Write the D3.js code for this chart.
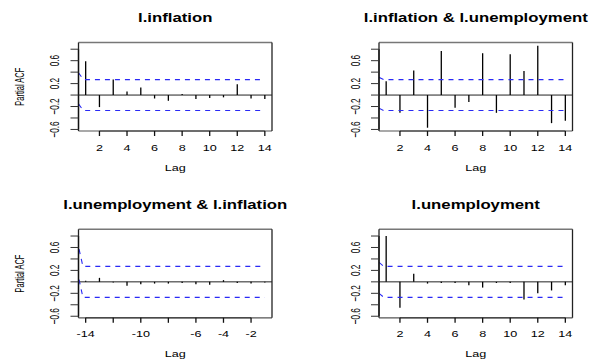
<!DOCTYPE html>
<html><head><meta charset="utf-8">
<script src="https://cdn.jsdelivr.net/npm/d3@7"></script>
<style>html,body{margin:0;padding:0;background:#fff;}svg{display:block;}</style>
</head><body>
<script>
// ---------- data ----------
const lagsPos = [1,2,3,4,5,6,7,8,9,10,11,12,13,14];
const lagsNeg = [-14,-13,-12,-11,-10,-9,-8,-7,-6,-5,-4,-3,-2,-1];
const pacfInflation = [0.59,-0.21,0.27,0.06,0.13,-0.06,-0.10,0.02,-0.07,-0.05,-0.04,0.19,-0.06,-0.07];
const pacfInflUnemp = [0.24,-0.31,0.43,-0.57,0.77,-0.22,-0.12,0.73,-0.31,0.71,0.42,0.86,-0.49,-0.45];
const pacfUnempInfl = [0.02,0.07,-0.01,-0.07,-0.04,-0.03,-0.03,-0.02,-0.04,-0.05,0.03,-0.02,-0.03,-0.01];
const pacfUnemp = [0.80,-0.45,0.14,-0.03,-0.02,-0.02,-0.06,-0.10,-0.02,-0.02,-0.31,-0.20,-0.15,-0.06];
const titles = ["l.inflation","l.inflation & l.unemployment","l.unemployment & l.inflation","l.unemployment"];
const clim = 0.27;
// confidence-band lines (lag, upper, lower)
const ciLagsPos = [0.48,0.83,14];
const ciLagsNeg = [-14.48,-14.2,-1];
const ciUpper = [[0.39,0.27,0.27],[0.31,0.27,0.27],[0.57,0.27,0.27],[0.34,0.27,0.27]];
const ciLower = [[-0.155,-0.27,-0.27],[-0.23,-0.27,-0.27],[0.04,-0.27,-0.27],[-0.20,-0.27,-0.27]];
const yTicks = [-0.6,-0.4,-0.2,0,0.2,0.4,0.6,0.8];
const yTickLabels = [-0.6,-0.2,0.2,0.6];
const xTicksPos = [2,4,6,8,10,12,14];
const xTicksNeg = [-14,-12,-10,-8,-6,-4,-2];
const xLabelsNeg = [-14,-10,-6,-4,-2];
const xLabel = "Lag", yLabel = "Partial ACF";

// ---------- layout ----------
const W = 598, H = 362;
const FONT = "'Liberation Sans', Arial, Helvetica, sans-serif";
const svg = d3.select("body").append("svg").attr("width", W).attr("height", H);

const allVals = [].concat(pacfInflation, pacfInflUnemp, pacfUnempInfl, pacfUnemp, [clim, -clim]);
const ext = d3.extent(allVals);
const pad = (ext[1]-ext[0])*0.04;
const yDomain = [ext[0]-pad, ext[1]+pad];

const panels = [
  {title: titles[0], lags: lagsPos, vals: pacfInflation, ci: 0, box:[78.5,272,42.5,131], ylab:true, neg:false},
  {title: titles[1], lags: lagsPos, vals: pacfInflUnemp, ci: 1, box:[379,572.5,42.5,131], ylab:false, neg:false},
  {title: titles[2], lags: lagsNeg, vals: pacfUnempInfl, ci: 2, box:[78.5,272,229.3,317.8], ylab:true, neg:true},
  {title: titles[3], lags: lagsPos, vals: pacfUnemp, ci: 3, box:[379,572.5,229.3,317.8], ylab:false, neg:false}
];

function txt(g, x, y, s, size, bold, rot, sx, sy) {
  g.append("text")
    .attr("transform", `translate(${x},${y}) scale(${sx},${sy})` + (rot ? " rotate(-90)" : ""))
    .attr("text-anchor","middle").attr("dominant-baseline","central")
    .attr("font-family", FONT).attr("font-size", size)
    .attr("font-weight", bold ? "bold" : "normal").attr("fill","#000").text(s);
}

panels.forEach((p, i) => {
  const [x0,x1,y0,y1] = p.box;
  const lagExt = d3.extent(p.lags);
  const lp = (lagExt[1]-lagExt[0])*0.04;
  const x = d3.scaleLinear().domain([lagExt[0]-lp, lagExt[1]+lp]).range([x0,x1]);
  const y = d3.scaleLinear().domain(yDomain).range([y1,y0]);
  const g = svg.append("g");
  const cid = "clip"+i;
  g.append("clipPath").attr("id",cid).append("rect").attr("x",x0).attr("y",y0).attr("width",x1-x0).attr("height",y1-y0);

  // zero line
  g.append("line").attr("x1",x0).attr("x2",x1).attr("y1",y(0)).attr("y2",y(0)).attr("stroke","#222").attr("stroke-width",1);
  // spikes
  g.selectAll("line.spike").data(p.lags.map((l,k)=>[l,p.vals[k]])).enter().append("line")
    .attr("class","spike").attr("x1",d=>x(d[0])).attr("x2",d=>x(d[0]))
    .attr("y1",y(0)).attr("y2",d=>y(d[1])).attr("stroke","#000").attr("stroke-width",1.3);
  // confidence lines
  const ciL = p.neg ? ciLagsNeg : ciLagsPos;
  const line = d3.line().x(d=>x(d[0])).y(d=>y(d[1]));
  [ciUpper[p.ci], ciLower[p.ci]].forEach(arr => {
    g.append("path").attr("clip-path",`url(#${cid})`)
      .attr("d", line(ciL.map((l,k)=>[l,arr[k]])))
      .attr("fill","none").attr("stroke","#2a2af5").attr("stroke-width",1.1).attr("stroke-dasharray","5,5");
  });
  // box
  g.append("line").attr("x1",x0).attr("x2",x1).attr("y1",y0).attr("y2",y0).attr("stroke","#777").attr("stroke-width",1.4);
  g.append("line").attr("x1",x0).attr("x2",x1).attr("y1",y1).attr("y2",y1).attr("stroke","#555").attr("stroke-width",1.2);
  g.append("line").attr("x1",x0).attr("x2",x0).attr("y1",y0).attr("y2",y1).attr("stroke","#222").attr("stroke-width",1.3);
  g.append("line").attr("x1",x1).attr("x2",x1).attr("y1",y0).attr("y2",y1).attr("stroke","#222").attr("stroke-width",1.3);

  // y axis
  const ya = g.append("g").attr("transform",`translate(${x0},0)`);
  ya.append("line").attr("x1",0).attr("x2",0).attr("y1",y(yTicks[0])).attr("y2",y(yTicks[yTicks.length-1])).attr("stroke","#111").attr("stroke-width",1.3);
  yTicks.forEach(t => ya.append("line").attr("x1",-8).attr("x2",0).attr("y1",y(t)).attr("y2",y(t)).attr("stroke","#333").attr("stroke-width",1));
  yTickLabels.forEach(t => txt(g, x0-24, y(t), d3.format(".1f")(t), 10.5, false, true, 1.3, 0.78));

  // x axis
  const xt = p.neg ? xTicksNeg : xTicksPos;
  const xl = p.neg ? xLabelsNeg : xTicksPos;
  g.append("line").attr("x1",x(xt[0])).attr("x2",x(xt[xt.length-1])).attr("y1",y1).attr("y2",y1).attr("stroke","#333").attr("stroke-width",1);
  xt.forEach(t => g.append("line").attr("x1",x(t)).attr("x2",x(t)).attr("y1",y1).attr("y2",y1+5).attr("stroke","#111").attr("stroke-width",1.3));
  xl.forEach(t => txt(g, x(t), y1+16, String(t), 10.5, false, false, 1.2, 0.95));

  // labels
  txt(g, (x0+x1)/2, y1+36, xLabel, 10.5, false, false, 1.2, 0.95);
  if (p.ylab) txt(g, 19, (y0+y1)/2, yLabel, 10, false, true, 1.3, 0.75);
  txt(g, (x0+x1)/2, y0-24.5, p.title, 13.4, true, false, 1.25, 0.95);
});
</script>
</body></html>
